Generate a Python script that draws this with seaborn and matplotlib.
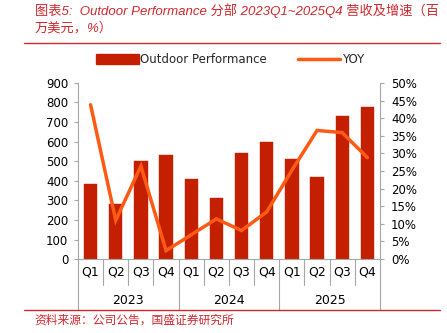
import matplotlib
matplotlib.use("Agg")
import matplotlib.pyplot as plt
import matplotlib.transforms as mtransforms
from matplotlib.lines import Line2D
from matplotlib.patches import Patch
import numpy as np
import pandas as pd
import seaborn as sns

years = ["2023", "2024", "2025"]
quarters = ["Q1", "Q2", "Q3", "Q4"]
revenue = [383, 280, 502, 532, 408, 310, 542, 600, 510, 420, 733, 775]
yoy = [43.8, 11.0, 26.4, 2.4, 6.9, 11.4, 8.1, 13.4, 25.2, 36.5, 35.9, 28.8]
left_ticks = [0, 100, 200, 300, 400, 500, 600, 700, 800, 900]
right_ticks = [0, 5, 10, 15, 20, 25, 30, 35, 40, 45, 50]

title_text = "图表5:  Outdoor Performance 分部 2023Q1~2025Q4 营收及增速（百\n万美元，%）"
source_text = "资料来源：公司公告，国盛证券研究所"
bar_label = "Outdoor Performance"
line_label = "YOY"

cats = [y + q for y in years for q in quarters]
df = pd.DataFrame({"cat": cats, "revenue": revenue, "yoy": yoy})

sns.set_style("white")
plt.rcParams["font.family"] = ["DejaVu Sans", "Noto Sans CJK SC"]

BAR = "#C42000"
LINE = "#FF5A14"
RED = "#D0282E"
GRAY = "#A6A6A6"

fig = plt.figure(figsize=(4.47, 3.33), dpi=100)
ax = fig.add_axes([0.1745, 0.222, 0.6755, 0.529])
sns.barplot(data=df, x="cat", y="revenue", color=BAR, width=0.53,
            saturation=1, ax=ax, edgecolor=BAR, linewidth=0.3)
ax2 = ax.twinx()
sns.pointplot(data=df, x="cat", y="yoy", color=LINE, markers="",
              linestyles="-", ax=ax2, errorbar=None)
for l in ax2.lines:
    l.set_linewidth(2.5)
    l.set_solid_joinstyle("miter")

n = len(cats)
for a in (ax, ax2):
    a.set_xlim(-0.5, n - 0.5)
    a.set_xlabel("")
    a.set_ylabel("")
ax.set_ylim(0, 900)
ax2.set_ylim(0, 50)
ax.set_yticks(left_ticks)
ax.set_yticklabels([str(v) for v in left_ticks], fontsize=8.5)
ax2.set_yticks(right_ticks)
ax2.set_yticklabels([f"{v}%" for v in right_ticks], fontsize=8.5)
ax.set_xticks(range(n))
ax.set_xticklabels([])
ax.tick_params(axis="x", length=0)
ax.tick_params(axis="y", direction="out", length=3, color=GRAY, width=0.8, pad=4, labelcolor="black")
ax2.tick_params(axis="y", direction="out", length=3, color=GRAY, width=0.8, pad=5, labelcolor="black")
ax2.set_xticks([])

for a in (ax, ax2):
    a.spines["top"].set_visible(False)
    for s in ("left", "right", "bottom"):
        a.spines[s].set_color(GRAY)
        a.spines[s].set_linewidth(0.8)
ax.spines["right"].set_visible(False)
ax2.spines["left"].set_visible(False)
ax2.spines["bottom"].set_visible(False)

trans = mtransforms.blended_transform_factory(ax.transData, ax.transAxes)
for i, c in enumerate(cats):
    ax.text(i, -0.075, quarters[i % 4], transform=trans, ha="center", va="center",
            fontsize=9, color="black")
for j, y in enumerate(years):
    ax.text(j * 4 + 1.5, -0.235, y, transform=trans, ha="center", va="center",
            fontsize=9, color="black")
for b in np.arange(-0.5, n, 1.0):
    major = (b + 0.5) % 4 == 0
    ylow = -0.29 if major else -0.148
    ax.add_line(Line2D([b, b], [0, ylow], transform=trans, color=GRAY,
                       linewidth=0.8, clip_on=False))

# legend
handles = [Patch(facecolor=BAR, edgecolor=BAR), Line2D([0], [0], color=LINE, lw=2.5)]
fig.legend(handles, [bar_label, line_label], loc="center", bbox_to_anchor=(0.515, 0.82),
           ncol=2, frameon=False, fontsize=8.5, handlelength=3.6, handleheight=0.9,
           handletextpad=0.15, columnspacing=2.6)

# title & source
fig.text(0.078, 0.99, title_text, ha="left", va="top", fontsize=9.5, color=RED,
         style="italic", family=["Liberation Sans", "Noto Sans CJK SC"], linespacing=1.4)
fig.add_artist(Line2D([0.054, 0.984], [0.871, 0.871], color=RED, lw=1.0, transform=fig.transFigure))
fig.add_artist(Line2D([0.054, 0.984], [0.069, 0.069], color=RED, lw=1.0, transform=fig.transFigure))
fig.text(0.078, 0.038, source_text, ha="left", va="center", fontsize=8.5, color=RED,
         style="italic", family=["Noto Sans CJK SC", "DejaVu Sans"])

fig.savefig("out.png", dpi=100)
